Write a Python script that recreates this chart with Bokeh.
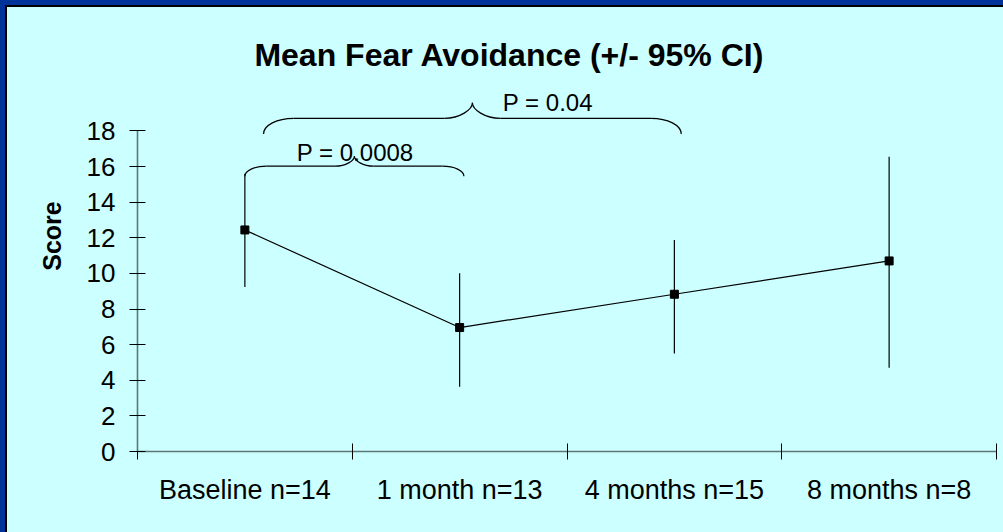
from bokeh.plotting import figure
from bokeh.models import Range1d, FixedTicker, Label
from bokeh.embed import file_html
from bokeh.resources import INLINE

# ---- data ----
categories = ["Baseline n=14", "1 month n=13", "4 months n=15", "8 months n=8"]
mean_score = [12.44, 6.96, 8.83, 10.70]
ci_lower = [9.24, 3.63, 5.50, 4.70]
ci_upper = [15.60, 10.01, 11.88, 16.55]
y_ticks = [0, 2, 4, 6, 8, 10, 12, 14, 16, 18]
title_text = "Mean Fear Avoidance (+/- 95% CI)"
y_label = "Score"
# comparisons: (from category index, to category index, label)
comparisons = [(0, 1, "P = 0.0008"), (0, 2, "P = 0.04")]

FONT = "Liberation Sans"
BG = "#CCFFFF"
EDGE = "#003399"

xpos = [i + 0.5 for i in range(len(categories))]

p = figure(width=996, height=525, output_backend="svg", toolbar_location=None,
           x_range=Range1d(0, 4), y_range=Range1d(0, 24.2),
           min_border_left=130, min_border_right=7, min_border_top=13,
           min_border_bottom=81)
p.background_fill_color = None
p.border_fill_color = None
p.outline_line_color = None
p.xgrid.visible = False
p.ygrid.visible = False
p.styles = {"margin-left": "7px", "margin-top": "7px", "background-color": BG}

# y axis
ya = p.yaxis[0]
ya.ticker = FixedTicker(ticks=y_ticks)
ya.bounds = (0, 18)
ya.major_tick_in = 8
ya.major_tick_out = 8
ya.major_tick_line_color = "black"
ya.minor_tick_line_color = None
ya.axis_line_color = "#5d7774"
ya.axis_line_width = 1.6
ya.major_label_text_font = FONT
ya.major_label_text_font_size = "26px"
ya.major_label_text_color = "black"
ya.major_label_standoff = 14
ya.axis_label = y_label
ya.axis_label_text_font = FONT
ya.axis_label_text_font_size = "25px"
ya.axis_label_text_font_style = "bold"
ya.axis_label_text_color = "black"
ya.axis_label_standoff = 18

# x axis
xa = p.xaxis[0]
xa.ticker = FixedTicker(ticks=xpos, minor_ticks=list(range(len(categories) + 1)))
xa.bounds = (0, 4)
xa.major_tick_line_color = None
xa.major_tick_in = 0
xa.major_tick_out = 0
xa.minor_tick_in = 8
xa.minor_tick_out = 8
xa.minor_tick_line_color = "black"
xa.axis_line_color = "#5d7774"
xa.axis_line_width = 1.6
xa.major_label_overrides = {x: c for x, c in zip(xpos, categories)}
xa.major_label_text_font = FONT
xa.major_label_text_font_size = "27px"
xa.major_label_text_color = "black"
xa.major_label_standoff = 15

# error bars, line, markers
p.segment(x0=xpos, y0=ci_lower, x1=xpos, y1=ci_upper, line_color="black", line_width=1.2)
p.line(xpos, mean_score, line_color="black", line_width=1.2)
p.scatter(xpos, mean_score, marker="square", size=8, color="black")

# braces
def brace(xl, xr, yb, yh, yt, rl, rt):
    k = 0.5523
    xm = (xl + xr) / 2
    segs = []
    segs.append((xl, yb, xl + rl, yh, xl, yb + k * (yh - yb), xl + rl - k * rl, yh))
    segs.append((xl + rl, yh, xm - rt, yh, xl + rl, yh, xm - rt, yh))
    segs.append((xm - rt, yh, xm, yt, xm - rt + k * rt, yh, xm, yh + k * (yt - yh)))
    segs.append((xm, yt, xm + rt, yh, xm, yh + k * (yt - yh), xm + rt - k * rt, yh))
    segs.append((xm + rt, yh, xr - rl, yh, xm + rt, yh, xr - rl, yh))
    segs.append((xr - rl, yh, xr, yb, xr - rl + k * rl, yh, xr, yb + k * (yh - yb)))
    cols = list(zip(*segs))
    p.bezier(x0=list(cols[0]), y0=list(cols[1]), x1=list(cols[2]), y1=list(cols[3]),
             cx0=list(cols[4]), cy0=list(cols[5]), cx1=list(cols[6]), cy1=list(cols[7]),
             line_color="black", line_width=1.2)

# P = 0.0008 brace: baseline center -> 1 month center
a, b, lab = comparisons[0]
brace(xpos[a], xpos[b] + 0.02, 15.46, 16.02, 16.58, 0.10, 0.09)
p.add_layout(Label(x=1.014, y=16.78, text=lab, text_font=FONT, text_font_size="24px",
                   text_align="center", text_baseline="alphabetic", text_color="black"))

# P = 0.04 brace: baseline -> 4 months
a, b, lab = comparisons[1]
brace(xpos[a] + 0.087, xpos[b] + 0.032, 17.83, 18.71, 19.58, 0.14, 0.13)
p.add_layout(Label(x=1.911, y=19.58, text=lab, text_font=FONT, text_font_size="24px",
                   text_align="center", text_baseline="alphabetic", text_color="black"))

# title
p.add_layout(Label(x=1.732, y=22.24, text=title_text, text_font=FONT, text_font_size="32px",
                   text_font_style="bold", text_align="center", text_baseline="alphabetic",
                   text_color="black"))

html = file_html(p, INLINE)
frame_css = (
    "<style>html, body { background: " + BG + " !important; overflow: hidden !important; }"
    ".edge { position: fixed; z-index: 10; pointer-events: none; }</style>"
    '<div class="edge" style="left:0;top:0;width:5px;height:100%;background:' + EDGE + ';"></div>'
    '<div class="edge" style="left:0;top:0;width:100%;height:5px;background:' + EDGE + ';"></div>'
    '<div class="edge" style="left:5px;top:5px;width:2px;height:100%;background:#000;"></div>'
    '<div class="edge" style="left:5px;top:5px;width:100%;height:2px;background:#000;"></div>'
)
head, sep, tail = html.rpartition("</body>")
html = head + frame_css + sep + tail
open("out.html", "w").write(html)
